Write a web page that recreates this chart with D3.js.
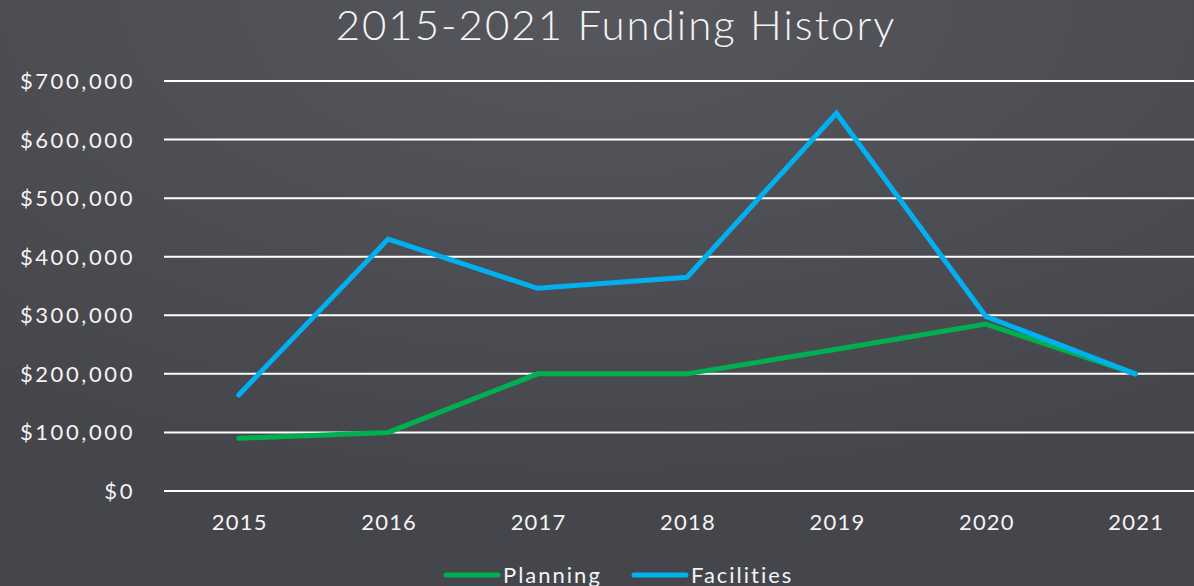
<!DOCTYPE html>
<html>
<head>
<meta charset="utf-8">
<script src="https://cdn.jsdelivr.net/npm/d3@7"></script>
<style>
  html, body { margin: 0; padding: 0; background: #48484f; }
  svg { display: block; }
  text { font-family: Lato, "Noto Sans", sans-serif; fill: #f4f4f4; }
</style>
</head>
<body>
<svg id="chart" width="1194" height="586"></svg>
<script>
// 年份與兩條資金序列
const years = ['2015', '2016', '2017', '2018', '2019', '2020', '2021'];
const planning = [90000, 100000, 200000, 200000, 242000, 285000, 200000];
const facilities = [164000, 430000, 346000, 365000, 645000, 298000, 200000];
const yTicks = [0, 100000, 200000, 300000, 400000, 500000, 600000, 700000];

const svg = d3.select('#chart');
const W = 1194, H = 586;

// 背景漸層
const defs = svg.append('defs');
const grad = defs.append('radialGradient')
    .attr('id', 'bg')
    .attr('cx', '50%').attr('cy', '0%').attr('r', '85%');
grad.append('stop').attr('offset', '0%').attr('stop-color', '#56565d');
grad.append('stop').attr('offset', '100%').attr('stop-color', '#45454c');
svg.append('rect').attr('width', W).attr('height', H).attr('fill', 'url(#bg)');

const x = d3.scaleBand().domain(years).range([164, 1210]);
const y = d3.scaleLinear().domain([0, 700000]).range([491, 81]);

// 標題
svg.append('text')
    .attr('x', 616).attr('y', 40)
    .attr('text-anchor', 'middle')
    .attr('font-size', 42)
    .attr('font-weight', 300)
    .attr('letter-spacing', 2)
    .text('2015-2021 Funding History');

// 網格線
svg.append('g')
    .selectAll('line')
    .data(yTicks)
    .enter().append('line')
    .attr('x1', 164).attr('x2', W)
    .attr('y1', d => y(d)).attr('y2', d => y(d))
    .attr('stroke', '#ffffff')
    .attr('stroke-width', 2);

// Y 軸標籤
const fmt = d3.format('$,');
svg.append('g')
    .selectAll('text')
    .data(yTicks)
    .enter().append('text')
    .attr('x', 135).attr('y', d => y(d) + 8)
    .attr('text-anchor', 'end')
    .attr('font-size', 22)
    .attr('letter-spacing', 2.6)
    .text(d => fmt(d));

// X 軸標籤
svg.append('g')
    .selectAll('text')
    .data(years)
    .enter().append('text')
    .attr('x', d => x(d) + x.bandwidth() / 2 + 1)
    .attr('y', 530)
    .attr('text-anchor', 'middle')
    .attr('font-size', 22)
    .attr('letter-spacing', 1.2)
    .text(d => d);

// 折線
const line = d3.line()
    .x((d, i) => x(years[i]) + x.bandwidth() / 2)
    .y(d => y(d));

const series = [
    { name: 'Planning', values: planning, color: '#00b050' },
    { name: 'Facilities', values: facilities, color: '#00b0f0' }
];

series.forEach(s => {
    svg.append('path')
        .datum(s.values)
        .attr('d', line)
        .attr('fill', 'none')
        .attr('stroke', s.color)
        .attr('stroke-width', 5)
        .attr('stroke-linecap', 'round')
        .attr('stroke-linejoin', 'miter');
});

// 圖例
const legendX = [446, 634];
series.forEach((s, i) => {
    const g = svg.append('g').attr('transform', `translate(${legendX[i]},575)`);
    g.append('line')
        .attr('x1', 0).attr('x2', 52)
        .attr('stroke', s.color)
        .attr('stroke-width', 5)
        .attr('stroke-linecap', 'round');
    g.append('text')
        .attr('x', 57).attr('y', 8)
        .attr('font-size', 22)
        .attr('letter-spacing', 2)
        .text(s.name);
});
</script>
</body>
</html>
